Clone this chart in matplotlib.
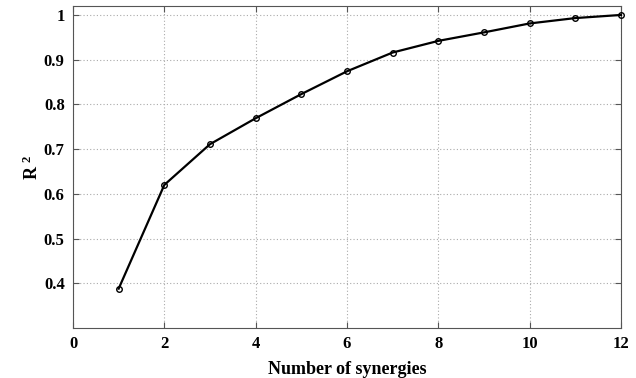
import matplotlib.pyplot as plt
import numpy as np

plt.rcParams['font.family'] = ['Liberation Serif', 'DejaVu Serif']
plt.rcParams['mathtext.fontset'] = 'custom'
plt.rcParams['mathtext.rm'] = 'Liberation Serif:bold'
plt.rcParams['mathtext.bf'] = 'Liberation Serif:bold'
plt.rcParams['mathtext.default'] = 'bf'

n_syn = [1, 2, 3, 4, 5, 6, 7, 8, 9, 10, 11, 12]
r2 = [0.388, 0.620, 0.711, 0.769, 0.823, 0.874, 0.916, 0.942, 0.961, 0.981, 0.993, 1.0]
xticks = [0, 2, 4, 6, 8, 10, 12]
yticks = [0.4, 0.5, 0.6, 0.7, 0.8, 0.9, 1.0]
ytick_labels = ['0.4', '0.5', '0.6', '0.7', '0.8', '0.9', '1']

fig = plt.figure(figsize=(6.36, 3.78), dpi=100)
ax = fig.add_axes([73/636, 1 - 328/378, (621-73)/636, (328-6)/378])

ax.plot(n_syn, r2, color='black', linewidth=1.6, marker='o', markersize=4,
        markerfacecolor='none', markeredgewidth=1.0, clip_on=False, zorder=3)

ax.set_xlim(0, 12)
ax.set_ylim(0.3, 1.02)
ax.set_xticks(xticks)
ax.set_yticks(yticks)
ax.set_yticklabels(ytick_labels)
ax.grid(True, linestyle=(0, (1, 2)), color='#aaaaaa', linewidth=0.8)
ax.tick_params(direction='in', top=True, right=True, length=4, width=0.8,
               color='#555555', labelsize=12, pad=6)
for lab in ax.get_xticklabels() + ax.get_yticklabels():
    lab.set_fontweight('bold')
for s in ax.spines.values():
    s.set_color('#555555')
    s.set_linewidth(0.8)

ax.set_xlabel('Number of synergies', fontsize=13, fontweight='bold', labelpad=6)
ax.set_ylabel('R $^{2}$', fontsize=13, fontweight='bold', labelpad=1)

fig.savefig('out.png', dpi=100)
